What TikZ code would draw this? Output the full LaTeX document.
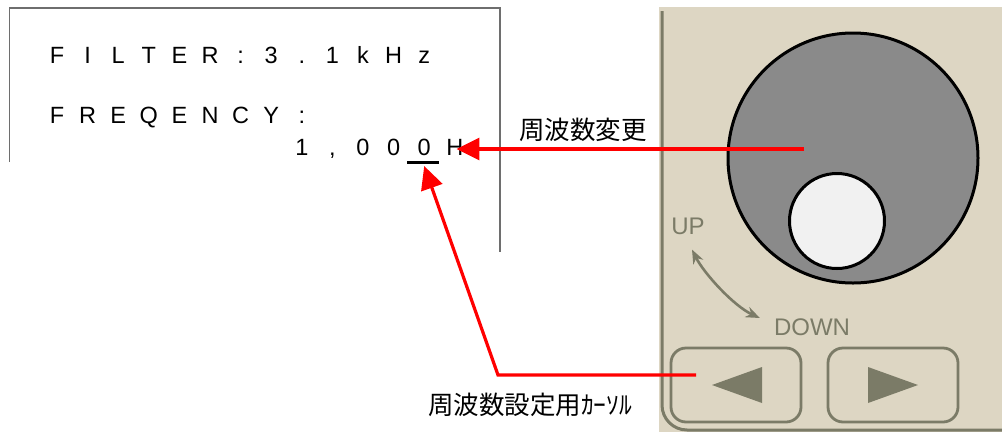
\documentclass[tikz,border=0pt]{standalone}
\usepackage{fontspec}
\setmainfont{Liberation Sans}
\newfontfamily\jpfont{Noto Sans CJK JP}
\usetikzlibrary{arrows.meta,positioning}
\definecolor{panel}{HTML}{DDD6C3}
\definecolor{olive}{HTML}{7B7B67}
\definecolor{knobgrey}{HTML}{8A8A8A}
\definecolor{hubwhite}{HTML}{F1F1F1}
\definecolor{framegrey}{HTML}{6E6E6E}

\begin{document}
\begin{tikzpicture}[x=1pt, y=-1pt,
  lcd/.style={inner sep=0pt, anchor=base, font=\fontsize{23.5}{23.5}\selectfont},
  jlabel/.style={inner sep=0pt, font=\jpfont\fontsize{25.5}{25.5}\selectfont},
  dirlabel/.style={inner sep=0pt, text=olive, font=\fontsize{24}{24}\selectfont},
  knob/.style={circle, draw=black, line width=3pt, inner sep=0pt},
  btn/.style={draw=olive, line width=2.8pt, rounded corners=15pt,
              minimum width=130pt, minimum height=74pt, inner sep=0pt},
  redarr/.style={draw=red, line width=3.2pt, -{Triangle[length=23pt,width=22pt]}},
  updown/.style={draw=olive, line width=2.6pt,
                 {Stealth[length=14pt,width=11pt]}-{Stealth[length=14pt,width=11pt]}},
]
\useasboundingbox (0,0) rectangle (1002,432);
% display (left), fixed pitch columns
\draw[framegrey, line width=1.6pt] (9.5,162) -- (9.5,8) -- (500,8) -- (500,252);
\foreach \c [count=\i from 0] in {F,I,L,T,E,R,:,3,.,1,k,H,z}
  \node[lcd] (f\i) at ({57+30.6*\i},63) {\c};
\foreach \c [count=\i from 0] in {F,R,E,Q,E,N,C,Y,:}
  \node[lcd] (q\i) at ({57+30.6*\i},123) {\c};
\foreach \c [count=\i from 8] in {1,{,},0,0,0,H}
  \node[lcd] (d\i) at ({57+30.6*\i},155) {\c};
\draw[black, line width=3pt] ([shift={(-17,7)}]d12.base) -- ([shift={(15,7)}]d12.base);
% operation panel (right)
\fill[panel] (659,7) rectangle (1002,432);
\draw[olive, line width=3pt, rounded corners=25pt] (662,11) -- (662,430) -- (1002,430);
\node[knob, fill=knobgrey, minimum size=250pt] (dial) at (853,158) {};
\node[knob, fill=hubwhite, minimum size=95pt]  (hub)  at (837,221) {};
\node[dirlabel] (up)   at (688,226) {UP};
\node[dirlabel] (down) at (812,327) {DOWN};
\draw[updown] ([shift={(4,15)}]up.south) .. controls +(12,24) and +(-26,-12)
  .. ([shift={(-14,-9)}]down.west);
\node[btn] (lbtn) at (736,385) {};
\node[btn] (rbtn) at (893,385) {};
\fill[olive] ([shift={(-24,0)}]lbtn.center) -- ([shift={(26,-18)}]lbtn.center)
  -- ([shift={(26,18)}]lbtn.center) -- cycle;
\fill[olive] ([shift={(25,0)}]rbtn.center) -- ([shift={(-25,-18)}]rbtn.center)
  -- ([shift={(-25,18)}]rbtn.center) -- cycle;
% labels and leaders
\node[jlabel] (chg)    at (583,130) {周波数変更};
\node[jlabel] (curlbl) at (530,405) {周波数設定用ｶｰｿﾙ};
\coordinate (dialpt)   at ([shift={(-49,-9)}]dial.center);
\coordinate (cursorpt) at ([shift={(-40,-10)}]lbtn.center);
\coordinate (elbow)    at (498,375);
\draw[redarr, shorten >=-7pt] (dialpt) -- (d13.east |- dialpt);
\draw[redarr] (cursorpt) -- (elbow) -- ([shift={(0,11)}]d12.base);
\end{tikzpicture}
\end{document}
